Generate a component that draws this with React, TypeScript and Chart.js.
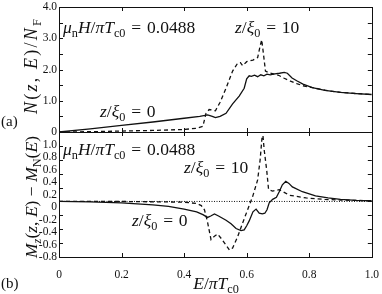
import React, { useEffect, useRef } from 'react';
import { Chart, registerables } from 'chart.js';

Chart.register(...registerables);

// ---------- data (panel a: DOS, panel b: magnetization) ----------
const dosSolidE = [0, 0.1, 0.2, 0.3, 0.4, 0.45, 0.475, 0.49, 0.5, 0.515, 0.534, 0.555, 0.576, 0.592, 0.6, 0.608, 0.615, 0.625, 0.635, 0.645, 0.655, 0.665, 0.675, 0.69, 0.705, 0.72, 0.73, 0.745, 0.76, 0.78, 0.81, 0.85, 0.9, 0.95, 1.0];
const dosSolidV = [0, 0.1, 0.21, 0.32, 0.44, 0.5, 0.55, 0.5, 0.46, 0.5, 0.6, 0.9, 1.15, 1.4, 1.7, 1.8, 1.78, 1.82, 1.77, 1.83, 1.8, 1.85, 1.83, 1.86, 1.88, 1.91, 1.88, 1.73, 1.64, 1.53, 1.42, 1.33, 1.27, 1.23, 1.2];

const dosDashE = [0, 0.1, 0.2, 0.3, 0.4, 0.44, 0.46, 0.47, 0.48, 0.49, 0.5, 0.515, 0.534, 0.555, 0.571, 0.58, 0.587, 0.6, 0.62, 0.635, 0.643, 0.648, 0.653, 0.66, 0.67, 0.69, 0.705, 0.72, 0.74, 0.76, 0.78, 0.8, 0.83, 0.86, 0.9, 0.95, 1.0];
const dosDashV = [0, 0.01, 0.03, 0.05, 0.08, 0.12, 0.18, 0.6, 0.72, 0.7, 0.68, 0.95, 1.4, 1.95, 2.2, 2.22, 2.12, 2.25, 2.3, 2.38, 2.75, 2.95, 2.55, 1.95, 1.9, 1.85, 1.8, 1.72, 1.63, 1.55, 1.48, 1.44, 1.38, 1.32, 1.27, 1.23, 1.2];

const magSolidE = [0, 0.1, 0.2, 0.3, 0.35, 0.4, 0.44, 0.46, 0.475, 0.485, 0.497, 0.51, 0.534, 0.55, 0.566, 0.582, 0.592, 0.6, 0.608, 0.62, 0.63, 0.64, 0.65, 0.658, 0.665, 0.672, 0.683, 0.695, 0.704, 0.714, 0.725, 0.735, 0.746, 0.778, 0.82, 0.86, 0.9, 0.95, 1.0];
const magSolidV = [0, -0.005, -0.02, -0.05, -0.07, -0.11, -0.15, -0.19, -0.23, -0.21, -0.18, -0.21, -0.27, -0.32, -0.39, -0.42, -0.41, -0.35, -0.28, -0.15, -0.11, -0.17, -0.18, -0.17, -0.12, -0.02, 0.03, 0.06, 0.14, 0.24, 0.29, 0.26, 0.21, 0.14, 0.08, 0.05, 0.03, 0.015, 0.01];

const magDashE = [0, 0.2, 0.4, 0.44, 0.455, 0.465, 0.475, 0.486, 0.497, 0.507, 0.518, 0.534, 0.545, 0.555, 0.571, 0.587, 0.603, 0.619, 0.635, 0.643, 0.649, 0.652, 0.656, 0.664, 0.67, 0.683, 0.704, 0.72, 0.736, 0.79, 0.85, 0.9, 1.0];
const magDashV = [0, 0, -0.01, -0.03, -0.06, -0.12, -0.3, -0.55, -0.5, -0.47, -0.53, -0.63, -0.7, -0.67, -0.51, -0.31, -0.12, 0.07, 0.31, 0.6, 0.92, 0.95, 0.74, 0.45, 0.17, 0.15, 0.17, 0.13, 0.09, 0.05, 0.03, 0.02, 0.01];

const zeroRefE = [0, 1];
const zeroRefV = [0, 0];

const xTickValues = [0, 0.2, 0.4, 0.6, 0.8, 1.0];
const xTickLabels = ['0', '0.2', '0.4', '0.6', '0.8', '1.0'];
const dosTickValues = [0, 1, 2, 3, 4];
const dosTickLabels = ['0', '1.0', '2.0', '3.0', '4.0'];
const magTickValues = [1.0, 0.8, 0.6, 0.4, 0.2, 0, -0.2, -0.4, -0.6, -0.8];
const magTickLabels = ['1.0', '0.8', '0.6', '0.4', '0.2', '0', '-0.2', '-0.4', '-0.6', '-0.8'];

// ---------- text helpers ----------
const FONT = '"Liberation Serif", "DejaVu Serif", serif';
const INK = '#111';
const EQ = '\u2004=\u2004';

type Seg = { t: string; it?: boolean; sub?: boolean };

function segFont(s: Seg, size: number) {
  const sz = s.sub ? size * 0.7 : size;
  return `${s.it ? 'italic ' : ''}${sz}px ${FONT}`;
}
function charCount(segs: Seg[]) {
  return segs.reduce((n, s) => n + s.t.length, 0);
}
function measureRich(ctx: CanvasRenderingContext2D, segs: Seg[], size: number) {
  let w = 0;
  for (const s of segs) {
    ctx.font = segFont(s, size);
    w += ctx.measureText(s.t).width;
  }
  return w;
}
function drawRich(ctx: CanvasRenderingContext2D, segs: Seg[], x: number, y: number, size: number, align: 'left' | 'center' = 'left', targetW = 0) {
  const natural = measureRich(ctx, segs, size);
  const n = charCount(segs);
  const gap = targetW > 0 && n > 1 ? (targetW - natural) / (n - 1) : 0;
  const w = natural + gap * (n - 1);
  let cx = align === 'center' ? x - w / 2 : x;
  ctx.textAlign = 'left';
  ctx.textBaseline = 'alphabetic';
  ctx.fillStyle = INK;
  for (const s of segs) {
    ctx.font = segFont(s, size);
    for (const ch of s.t) {
      ctx.fillText(ch, cx, y + (s.sub ? size * 0.22 : 0));
      cx += ctx.measureText(ch).width + gap;
    }
  }
}

const fieldText: Seg[] = [
  { t: 'μ', it: true }, { t: 'n', sub: true }, { t: 'H', it: true }, { t: '/' },
  { t: 'π', it: true }, { t: 'T', it: true }, { t: 'c0', sub: true }, { t: EQ + '0.0488' },
];
const z10Text: Seg[] = [{ t: 'z', it: true }, { t: '/' }, { t: 'ξ', it: true }, { t: '0', sub: true }, { t: EQ + '10' }];
const z0Text: Seg[] = [{ t: 'z', it: true }, { t: '/' }, { t: 'ξ', it: true }, { t: '0', sub: true }, { t: EQ + '0' }];
const dosTitle: Seg[] = [
  { t: 'N', it: true }, { t: '(' }, { t: 'z', it: true }, { t: ', ' }, { t: 'E', it: true }, { t: ')/' },
  { t: 'N', it: true }, { t: 'F', sub: true },
];
const magTitle: Seg[] = [
  { t: 'M', it: true }, { t: 'z', it: true, sub: true }, { t: '(' }, { t: 'z', it: true }, { t: ', ' },
  { t: 'E', it: true }, { t: ') − ' }, { t: 'M', it: true }, { t: 'N', sub: true }, { t: '(' },
  { t: 'E', it: true }, { t: ')' },
];
const xTitle: Seg[] = [{ t: 'E', it: true }, { t: '/' }, { t: 'π', it: true }, { t: 'T', it: true }, { t: 'c0', sub: true }];

const toPoints = (xs: number[], ys: number[]) => xs.map((x, i) => ({ x, y: ys[i] }));

const decorPlugin = {
  id: 'decor',
  afterDraw(chart: any) {
    const ctx: CanvasRenderingContext2D = chart.ctx;
    const x = chart.scales.x;
    const yt = chart.scales.yTop;
    const yb = chart.scales.yBot;
    ctx.save();
    ctx.strokeStyle = INK;
    ctx.lineWidth = 1;
    // frames
    ctx.strokeRect(Math.round(x.left) + 0.5, Math.round(yt.top) + 0.5, Math.round(x.right - x.left), Math.round(yt.bottom - yt.top));
    ctx.strokeRect(Math.round(x.left) + 0.5, Math.round(yb.top) + 0.5, Math.round(x.right - x.left), Math.round(yb.bottom - yb.top));
    const L = 4;
    ctx.beginPath();
    for (const v of xTickValues) {
      const px = Math.round(x.getPixelForValue(v)) + 0.5;
      ctx.moveTo(px, yt.top); ctx.lineTo(px, yt.top + L);
      ctx.moveTo(px, yt.bottom); ctx.lineTo(px, yt.bottom - L);
      ctx.moveTo(px, yb.top); ctx.lineTo(px, yb.top + L);
      ctx.moveTo(px, yb.bottom); ctx.lineTo(px, yb.bottom - L);
    }
    for (let v = 0; v <= 4.001; v += 0.5) {
      const py = Math.round(yt.getPixelForValue(v)) + 0.5;
      ctx.moveTo(x.left, py); ctx.lineTo(x.left + L, py);
      ctx.moveTo(x.right, py); ctx.lineTo(x.right - L, py);
    }
    for (const v of magTickValues) {
      const py = Math.round(yb.getPixelForValue(v)) + 0.5;
      ctx.moveTo(x.left, py); ctx.lineTo(x.left + L, py);
      ctx.moveTo(x.right, py); ctx.lineTo(x.right - L, py);
    }
    ctx.stroke();

    // y tick labels
    ctx.font = `11.5px ${FONT}`;
    ctx.fillStyle = INK;
    ctx.textAlign = 'right';
    ctx.textBaseline = 'middle';
    dosTickValues.forEach((v, i) => {
      ctx.fillText(dosTickLabels[i], x.left - 2, yt.getPixelForValue(v));
    });
    // magnetization tick labels (placed as in the original figure)
    const labTop = yb.top + 13;
    const n = magTickValues.length;
    magTickLabels.forEach((lab, i) => {
      const py = labTop + (i / (n - 1)) * (yb.bottom - labTop);
      ctx.fillText(lab, x.left - 2, py);
    });

    // annotations
    const S = 17.5;
    drawRich(ctx, fieldText, 63, 33, S);
    drawRich(ctx, z10Text, 235, 33, S);
    drawRich(ctx, z0Text, 100, 117, S);
    drawRich(ctx, fieldText, 63, 155, S);
    drawRich(ctx, z10Text, 184, 173, S);
    drawRich(ctx, z0Text, 132, 226, S);

    // axis titles
    ctx.save();
    ctx.translate(37, 66.5);
    ctx.rotate(-Math.PI / 2);
    drawRich(ctx, dosTitle, 0, 0, 18, 'center', 95);
    ctx.restore();
    ctx.save();
    ctx.translate(37, 197);
    ctx.rotate(-Math.PI / 2);
    drawRich(ctx, magTitle, 0, 0, 17.5, 'center', 122);
    ctx.restore();
    drawRich(ctx, xTitle, 216, 289, 17.5, 'center');

    ctx.font = `15px ${FONT}`;
    ctx.textAlign = 'left';
    ctx.textBaseline = 'alphabetic';
    ctx.fillStyle = INK;
    ctx.fillText('(a)', 1, 126);
    ctx.fillText('(b)', 1, 288);
    ctx.restore();
  },
};

export default function App() {
  const ref = useRef<HTMLCanvasElement | null>(null);
  useEffect(() => {
    if (!ref.current) return;
    const lineBase = { pointRadius: 0, tension: 0, fill: false, borderColor: INK, borderWidth: 1.3 };
    const chart = new Chart(ref.current, {
      type: 'line',
      data: {
        datasets: [
          { ...lineBase, label: 'DOS z/ξ0=0', data: toPoints(dosSolidE, dosSolidV), yAxisID: 'yTop' },
          { ...lineBase, label: 'DOS z/ξ0=10', data: toPoints(dosDashE, dosDashV), yAxisID: 'yTop', borderDash: [4, 3] },
          { ...lineBase, label: 'zero', data: toPoints(zeroRefE, zeroRefV), yAxisID: 'yBot', borderDash: [1, 1.5], borderWidth: 1 },
          { ...lineBase, label: 'M z/ξ0=0', data: toPoints(magSolidE, magSolidV), yAxisID: 'yBot' },
          { ...lineBase, label: 'M z/ξ0=10', data: toPoints(magDashE, magDashV), yAxisID: 'yBot', borderDash: [4, 3] },
        ],
      } as any,
      options: {
        responsive: false,
        animation: false,
        devicePixelRatio: 1,
        parsing: false as any,
        layout: { padding: { top: 7, right: 9, left: 0, bottom: 0 } },
        plugins: { legend: { display: false }, tooltip: { enabled: false } },
        scales: {
          x: {
            type: 'linear', min: 0, max: 1, position: 'bottom',
            grid: { display: false }, border: { display: false },
            ticks: {
              stepSize: 0.2, autoSkip: false, padding: 3, color: INK,
              font: { family: FONT, size: 11.5 },
              callback: (v: any) => {
                const i = xTickValues.findIndex((t) => Math.abs(t - v) < 1e-6);
                return i >= 0 ? xTickLabels[i] : '';
              },
            },
            afterFit: (s: any) => { s.height = 37; },
          },
          yTop: {
            type: 'linear', position: 'left', stack: 'panels', stackWeight: 1, weight: 2,
            min: 0, max: 4,
            grid: { display: false }, border: { display: false },
            ticks: { display: false, stepSize: 0.5 },
            afterFit: (s: any) => { s.width = 59; },
          },
          yBot: {
            type: 'linear', position: 'left', stack: 'panels', stackWeight: 1, weight: 1,
            min: -0.8, max: 1.0,
            grid: { display: false }, border: { display: false },
            ticks: { display: false, stepSize: 0.2 },
            afterFit: (s: any) => { s.width = 59; },
          },
        } as any,
      },
      plugins: [decorPlugin],
    });
    return () => chart.destroy();
  }, []);
  return (
    <div style={{ position: 'absolute', left: 0, top: 0, width: 382, height: 294, background: '#fff' }}>
      <canvas ref={ref} width={382} height={294} style={{ display: 'block' }} />
    </div>
  );
}
